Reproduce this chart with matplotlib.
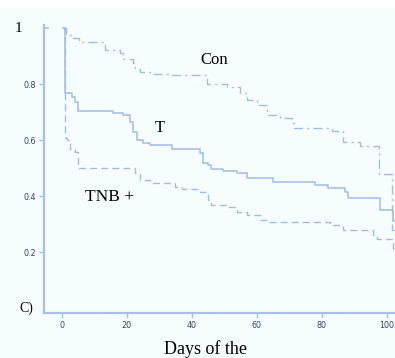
import matplotlib
matplotlib.use("Agg")
import matplotlib.pyplot as plt
from matplotlib.patches import Rectangle

# ---- data ----
con_days = [0.3, 1.4, 3.4, 5.2, 13.2, 17.8, 18.8, 21.8, 22.5, 24, 27, 33.8, 44.5, 50.8,
            54.8, 57, 60, 63, 67, 70.8, 71.5, 83, 86.5, 91.7, 97.5, 101.5, 103]
con_surv = [1.0, 0.975, 0.964, 0.951, 0.921, 0.91, 0.889, 0.875, 0.854, 0.844, 0.838, 0.832,
            0.80, 0.79, 0.77, 0.743, 0.725, 0.69, 0.68, 0.66, 0.643, 0.632, 0.593, 0.58,
            0.48, 0.28, 0.28]

t_days = [0.3, 1.0, 3, 4, 5, 15.8, 18.8, 21, 22, 23, 25, 27, 34, 42.5, 43.5, 45, 46, 49.6,
          53.8, 57, 65, 78, 82, 87, 88, 98, 102, 103]
t_surv = [1.0, 0.768, 0.755, 0.737, 0.705, 0.696, 0.69, 0.665, 0.63, 0.60, 0.59, 0.582,
          0.568, 0.553, 0.52, 0.51, 0.497, 0.49, 0.482, 0.464, 0.45, 0.44, 0.43, 0.414,
          0.393, 0.35, 0.31, 0.31]

tnb_days = [0.3, 1.0, 1.5, 2.5, 4, 5, 22.5, 24, 27, 34.8, 37, 42.5, 45, 46, 51, 53.8, 57,
            61, 63, 82.5, 86.5, 95.7, 97, 102, 103]
tnb_surv = [1.0, 0.607, 0.60, 0.57, 0.558, 0.50, 0.482, 0.457, 0.446, 0.433, 0.425, 0.414,
            0.386, 0.368, 0.36, 0.343, 0.332, 0.314, 0.308, 0.296, 0.279, 0.26, 0.246,
            0.21, 0.21]

x_ticks = [0, 20, 40, 60, 80, 100]
y_ticks = [0.2, 0.4, 0.6, 0.8]
y_tick_labels = ["0.2", "0.4", "0.6", "0.8"]
series_labels = ["Con", "T", "TNB +"]
x_label = "Days of the"

# ---- style ----
bg = "#f6fdfe"
line_col = "#a3bbe2"
axis_col = "#a9bfe3"
tick_txt = "#34426a"
serif = "Liberation Serif"

fig = plt.figure(figsize=(3.95, 3.58), dpi=100, facecolor=bg)
fig.patches.append(Rectangle((0, 0.978), 1, 0.03, transform=fig.transFigure,
                             facecolor="white", edgecolor="none", zorder=0))
ax = fig.add_axes([0.1114, 0.1257, 0.8886, 0.804])
ax.set_facecolor(bg)

ax.step(con_days, con_surv, where="post", color=line_col, lw=1.0,
        linestyle=(0, (6.5, 3, 1.5, 3)))
ax.step(t_days, t_surv, where="post", color=line_col, lw=1.1, linestyle="-")
ax.step(tnb_days, tnb_surv, where="post", color=line_col, lw=1.0,
        linestyle=(0, (5, 3)))

ax.set_xlim(-5.5, 102.5)
ax.set_ylim(-0.018, 1.011)

for s in ["top", "right"]:
    ax.spines[s].set_visible(False)
for s in ["left", "bottom"]:
    ax.spines[s].set_color(axis_col)
    ax.spines[s].set_linewidth(1.6)

ax.set_xticks(x_ticks)
ax.set_xticklabels([str(v) for v in x_ticks])
ax.set_yticks(y_ticks)
ax.set_yticklabels(y_tick_labels)
ax.tick_params(axis="both", colors=axis_col, labelcolor=tick_txt, labelsize=5.8,
               length=3.5, width=1.0, pad=2.5)

# top and bottom y labels as drawn in the picture
ax.text(-0.062, 1.0, "1", transform=ax.get_yaxis_transform(), ha="right", va="center",
        fontsize=11, family=serif, color="black")
ax.plot([-5.5, -4.3], [1.0, 1.0], color=axis_col, lw=1.2, clip_on=False)
ax.text(-0.03, 0.0, "C)", transform=ax.get_yaxis_transform(), ha="right", va="center",
        fontsize=10, family=serif, color="black")

# curve labels
ax.text(46.8, 0.886, series_labels[0], ha="center", va="center", fontsize=12,
        family=serif, color="black")
ax.text(30.2, 0.643, series_labels[1], ha="center", va="center", fontsize=12,
        family=serif, color="black")
ax.text(14.8, 0.396, series_labels[2], ha="center", va="center", fontsize=12.5,
        family=serif, color="black")

fig.text(206 / 395, 1 - 354 / 358, x_label, ha="center", va="baseline", fontsize=13,
         family=serif, color="black")

fig.savefig("out.png", dpi=100, facecolor=bg)
